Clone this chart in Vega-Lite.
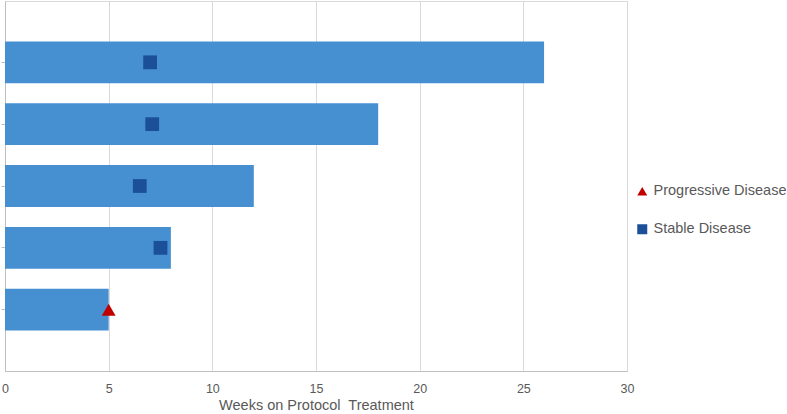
{
  "$schema": "https://vega.github.io/schema/vega-lite/v6.json",
  "width": 622,
  "height": 370,
  "padding": {"left": 0, "top": 1, "right": 0, "bottom": 0},
  "background": "white",
  "config": {
    "font": "Liberation Sans",
    "view": {"stroke": "#d9d9d9", "strokeWidth": 1}
  },
  "datasets": {
    "bars": [
      {"patient": "P1", "weeks": 26},
      {"patient": "P2", "weeks": 18},
      {"patient": "P3", "weeks": 12},
      {"patient": "P4", "weeks": 8},
      {"patient": "P5", "weeks": 5}
    ],
    "events": [
      {"patient": "P1", "week": 7.0, "status": "Stable Disease"},
      {"patient": "P2", "week": 7.1, "status": "Stable Disease"},
      {"patient": "P3", "week": 6.5, "status": "Stable Disease"},
      {"patient": "P4", "week": 7.5, "status": "Stable Disease"},
      {"patient": "P5", "week": 5.0, "status": "Progressive Disease"}
    ]
  },
  "encoding": {
    "y": {
      "field": "patient",
      "type": "nominal",
      "sort": ["P1", "P2", "P3", "P4", "P5"],
      "scale": {"domain": ["P1", "P2", "P3", "P4", "P5"], "paddingInner": 0.3226, "paddingOuter": 0.653},
      "axis": {
        "title": null,
        "labels": false,
        "ticks": true,
        "tickSize": 4,
        "tickColor": "#bfbfbf",
        "domainColor": "#bfbfbf",
        "grid": false
      }
    }
  },
  "layer": [
    {
      "data": {"name": "bars"},
      "mark": {"type": "bar", "color": "#4690D2"},
      "encoding": {
        "x": {
          "field": "weeks",
          "type": "quantitative",
          "scale": {"domain": [0, 30], "nice": false},
          "axis": {
            "title": "Weeks on Protocol\u00a0 Treatment",
            "values": [0, 5, 10, 15, 20, 25, 30],
            "ticks": false,
            "labelFlush": false,
            "labelPadding": 11,
            "labelFontSize": 12.5,
            "labelColor": "#595959",
            "titleFontSize": 14.5,
            "titleFontWeight": "normal",
            "titleColor": "#595959",
            "titlePadding": 4,
            "domainColor": "#bfbfbf",
            "gridColor": "#d9d9d9",
            "grid": true
          }
        }
      }
    },
    {
      "data": {"name": "events"},
      "mark": {"type": "point", "filled": true, "opacity": 1, "size": 190},
      "encoding": {
        "x": {"field": "week", "type": "quantitative"},
        "color": {
          "field": "status",
          "type": "nominal",
          "scale": {"domain": ["Progressive Disease", "Stable Disease"], "range": ["#C00000", "#1B4F98"]},
          "legend": {
            "title": null,
            "orient": "none",
            "legendX": 630,
            "legendY": 183,
            "padding": 0,
            "symbolSize": 100,
            "symbolOpacity": 1,
            "labelFontSize": 14.5,
            "labelColor": "#595959",
            "labelOffset": 4,
            "rowPadding": 22
          }
        },
        "shape": {
          "field": "status",
          "type": "nominal",
          "scale": {"domain": ["Progressive Disease", "Stable Disease"], "range": ["triangle-up", "square"]}
        }
      }
    }
  ]
}
